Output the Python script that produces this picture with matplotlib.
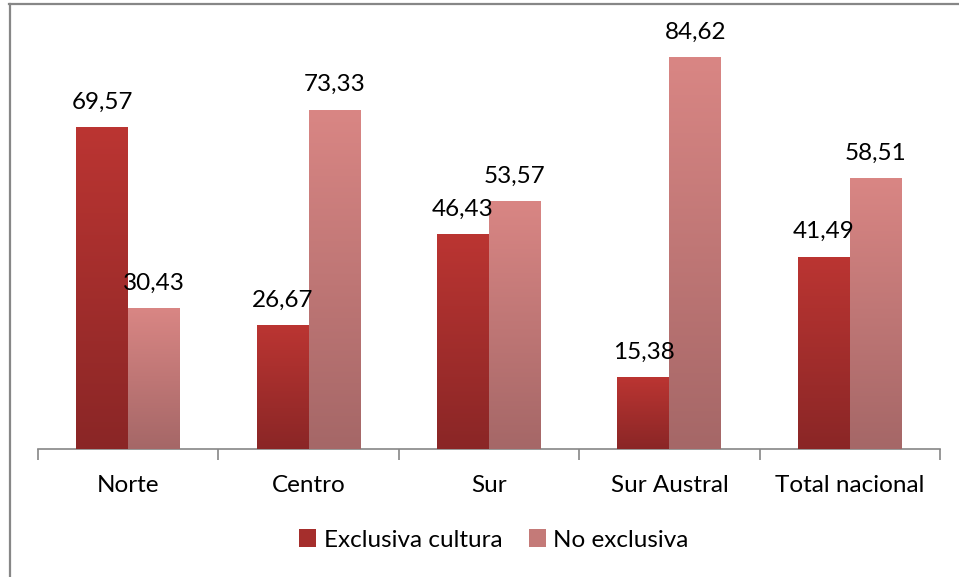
import numpy as np
import matplotlib
matplotlib.use("Agg")
import matplotlib.pyplot as plt
from matplotlib.colors import LinearSegmentedColormap
from matplotlib.patches import Patch
from matplotlib.lines import Line2D

# datos
categorias = ["Norte", "Centro", "Sur", "Sur Austral", "Total nacional"]
exclusiva = [69.57, 26.67, 46.43, 15.38, 41.49]
no_exclusiva = [30.43, 73.33, 53.57, 84.62, 58.51]
series = ["Exclusiva cultura", "No exclusiva"]

plt.rcParams['font.family'] = ['Lato', 'DejaVu Sans']

W, H = 959, 577
fig = plt.figure(figsize=(W / 100, H / 100), dpi=100)
ax = fig.add_axes([38 / W, (H - 449) / H, (940 - 38) / W, 439 / H])

x = np.arange(len(categorias))
ancho = 0.288
fs = 17.5

colores = [("#8a2626", "#bb3532"), ("#a56767", "#d98684")]

for i, vals in enumerate([exclusiva, no_exclusiva]):
    pos = x + (i - 0.5) * ancho
    bars = ax.bar(pos, vals, width=ancho, color=colores[i][1], linewidth=0, zorder=2)
    cmap = LinearSegmentedColormap.from_list("g%d" % i, colores[i])
    grad = np.linspace(0, 1, 256).reshape(-1, 1)
    for b, v in zip(bars, vals):
        x0 = b.get_x()
        ax.imshow(grad, extent=[x0, x0 + ancho, 0, v], origin="lower", aspect="auto",
                  cmap=cmap, zorder=3)
        ax.text(b.get_x() + ancho / 2, v + 4.1, f"{v:.2f}".replace(".", ","),
                ha="center", va="baseline", fontsize=fs, color="black", zorder=4)

ax.set_xlim(-0.5, len(categorias) - 0.5)
ax.set_ylim(0, 95)
ax.set_yticks([])
ax.set_xticks(x)
ax.set_xticklabels(categorias, fontsize=fs)
ax.set_xticks(np.arange(-0.5, len(categorias)), minor=True)
ax.tick_params(axis="x", which="major", length=0, pad=19)
ax.tick_params(axis="x", which="minor", length=8, width=1.2, color="#868686")
for s in ["top", "right", "left"]:
    ax.spines[s].set_visible(False)
ax.spines["bottom"].set_color("#868686")
ax.spines["bottom"].set_linewidth(1.2)
ax.set_facecolor("none")

# marco del grafico
fig.add_artist(Line2D([9.5 / W, 9.5 / W], [0, (H - 4) / H], color="#878787", lw=1.6))
fig.add_artist(Line2D([9 / W, 1], [(H - 4) / H, (H - 4) / H], color="#878787", lw=1.6))

handles = [Patch(facecolor="#a52e2c", edgecolor="none"),
           Patch(facecolor="#c47a78", edgecolor="none")]
fig.legend(handles, series, loc="center", bbox_to_anchor=(494 / W, (H - 540) / H),
           ncol=2, frameon=False, fontsize=fs, handlelength=0.7, handleheight=0.7,
           handletextpad=0.3, columnspacing=1.1)

fig.savefig("out.png", dpi=100)
